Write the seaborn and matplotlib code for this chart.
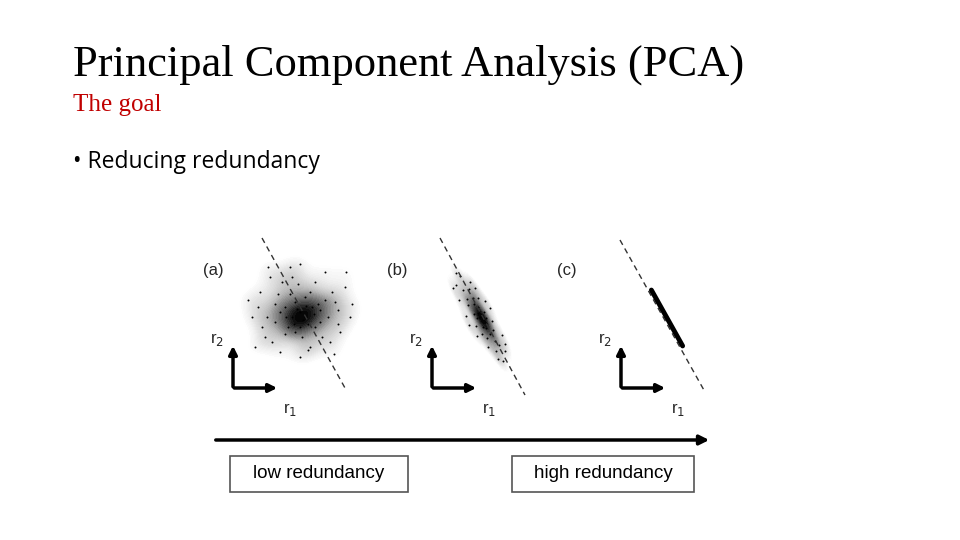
import numpy as np
import pandas as pd
import matplotlib.pyplot as plt
import seaborn as sns

# cloud (a): offsets in pixels from the cloud centre
cloud_a = [(-48, 5), (-40, -20), (-35, 25), (-30, -35), (-25, 10), (-20, 40), (-15, -5), (-10, -45),
           (-5, 20), (0, 0), (5, -15), (10, 35), (15, -30), (20, 10), (25, -40), (30, 30), (35, -10),
           (40, 20), (45, -25), (50, 5), (-42, -5), (-33, 5), (-22, -18), (-12, 15), (-2, -28), (8, 12),
           (18, -8), (28, 5), (38, -2), (-28, 30), (-18, -30), (-8, 5), (2, 25), (12, -5), (22, 25),
           (32, -20), (-15, 22), (-5, -10), (5, 5), (15, 15), (-3, -3), (3, 8), (-10, -18), (10, -20),
           (0, 45), (-25, -8), (25, -12), (-38, 15), (38, 12), (0, -48), (-52, -12), (52, -8), (-6, 12),
           (6, -6), (-20, 0), (20, -2), (-8, -35), (8, 38), (-32, -45), (34, 42), (-45, 35), (46, -40),
           (0, 15), (-14, 5), (14, 2)]
# cloud (b): (along line, across line)
cloud_b = [(-45, 2), (-40, -6), (-36, 8), (-32, -2), (-28, 10), (-25, -10), (-20, 3), (-16, -5),
           (-12, 12), (-8, -12), (-5, 0), (-2, 6), (0, -3), (3, 2), (6, -8), (9, 9), (12, 0), (15, -12),
           (18, 5), (22, -4), (26, 11), (30, -7), (34, 3), (38, -2), (42, 6), (46, -4), (-30, 4),
           (-22, -3), (-14, 1), (-6, -4), (4, 5), (10, -2), (20, 1), (28, 2), (-18, 7), (16, -6),
           (-3, 13), (2, -14), (-38, -10), (36, 9), (0, 0), (-10, 3), (8, 3), (-50, 0), (50, -1)]
# cloud (c): (along line, across line)
cloud_c = [(-32, 0), (32, 0)]

# panel geometry in figure pixels
centres = {"a": (300, 312), "b": (480, 317), "c": (667, 318)}
dashes = {"a": ((262, 238), (345, 388)), "b": ((440, 238), (525, 395)), "c": ((620, 240), (705, 392))}
corners = {"a": (233, 388), "b": (432, 388), "c": (621, 388)}
panel_labels = {"a": (213, 270), "b": (397, 270), "c": (567, 270)}

sns.set_theme(style="white")
fig = plt.figure(figsize=(9.6, 5.4), dpi=100)
ax = fig.add_axes([0, 0, 1, 1])
ax.set_xlim(0, 960)
ax.set_ylim(540, 0)
ax.axis("off")

fig.text(73 / 960, 1 - 65 / 540, "Principal Component Analysis (PCA)", family="Liberation Serif",
         fontsize=32, va="center", color="black")
fig.text(73 / 960, 1 - 105 / 540, "The goal", family="Liberation Serif", fontsize=18,
         color="#c00000", va="center")
fig.text(73 / 960, 1 - 162 / 540, "• Reducing redundancy", family="Open Sans", fontsize=16.5,
         va="center", color="black")


def place(name, pts):
    cx, cy = centres[name]
    if name == "a":
        return pd.DataFrame({"x": [cx + p[0] for p in pts], "y": [cy + p[1] for p in pts]})
    (x0, y0), (x1, y1) = dashes[name]
    d = np.array([x1 - x0, y1 - y0], float)
    d /= np.linalg.norm(d)
    n = np.array([d[1], -d[0]])
    arr = np.array(pts, float)
    xy = np.array([cx, cy]) + arr[:, :1] * d + arr[:, 1:] * n
    return pd.DataFrame({"x": xy[:, 0], "y": xy[:, 1]})


for name, pts in [("a", cloud_a), ("b", cloud_b), ("c", cloud_c)]:
    df = place(name, pts)
    (x0, y0), (x1, y1) = dashes[name]
    ax.plot([x0, x1], [y0, y1], color="#333333", lw=1, ls=(0, (4, 3)))
    if name == "c":
        ax.plot(df["x"], df["y"], color="black", lw=3.5, solid_capstyle="round")
    else:
        sns.kdeplot(data=df, x="x", y="y", fill=True, cmap="Greys", levels=40, thresh=0.08,
                    bw_adjust=0.8, ax=ax)
        sns.scatterplot(data=df, x="x", y="y", s=2, color="black", linewidth=0, ax=ax)
    cx, cy = corners[name]
    ax.annotate("", xy=(cx, cy - 45), xytext=(cx, cy + 1.5),
                arrowprops=dict(arrowstyle="-|>", color="black", lw=2.5, mutation_scale=12))
    ax.annotate("", xy=(cx + 47, cy), xytext=(cx - 1.5, cy),
                arrowprops=dict(arrowstyle="-|>", color="black", lw=2.5, mutation_scale=12))
    ax.text(cx - 16, cy - 48, "r$_2$", fontsize=12, ha="center", va="center", family="Liberation Sans")
    ax.text(cx + 57, cy + 22, "r$_1$", fontsize=12, ha="center", va="center", family="Liberation Sans")
    lx, ly = panel_labels[name]
    ax.text(lx, ly, f"({name})", fontsize=12, ha="center", va="center", family="Liberation Sans")

ax.annotate("", xy=(712, 440), xytext=(213, 440),
            arrowprops=dict(arrowstyle="-|>", color="black", lw=2.5, mutation_scale=14))
for label, (bx0, bx1) in [("low redundancy", (230, 408)), ("high redundancy", (512, 694))]:
    ax.add_patch(plt.Rectangle((bx0, 456), bx1 - bx0, 36, fill=False, ec="#555555", lw=1.2))
    ax.text((bx0 + bx1) / 2, 474, label, fontsize=13.5, ha="center", va="center",
            family="Liberation Sans", color="black")

fig.savefig("out.png", dpi=100)
